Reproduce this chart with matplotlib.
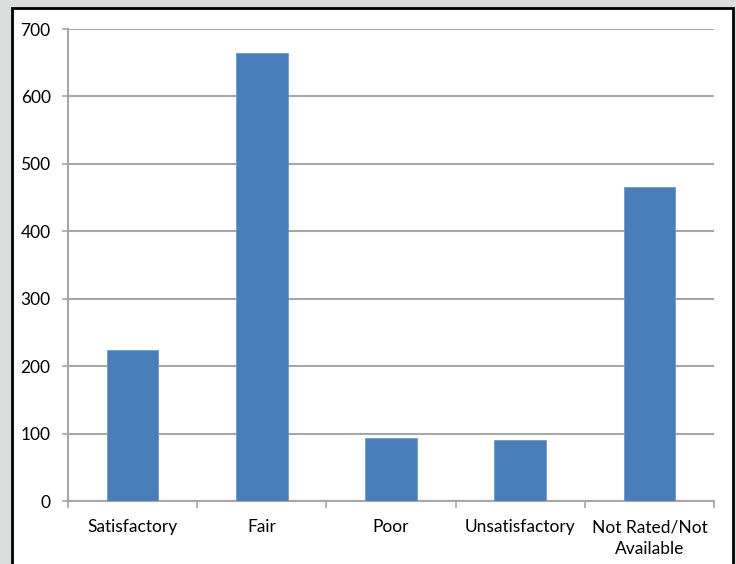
import matplotlib.pyplot as plt
from matplotlib.patches import Rectangle
import numpy as np

categories = ["Satisfactory", "Fair", "Poor", "Unsatisfactory", "Not Rated/Not\nAvailable"]
counts = [224, 665, 93, 90, 465]
y_ticks = [0, 100, 200, 300, 400, 500, 600, 700]

plt.rcParams["font.family"] = ["Lato", "DejaVu Sans"]

fig = plt.figure(figsize=(7.36, 5.64), dpi=100)
fig.patch.set_facecolor("#dcdddf")

# white panel with black frame (bottom edge runs off the image)
fig.patches.append(Rectangle((12 / 736, -0.1), 721 / 736, 0.1 + 1 - 8.5 / 564,
                             transform=fig.transFigure, facecolor="white",
                             edgecolor="black", linewidth=2, zorder=-10))

ax = fig.add_axes([68 / 736, 1 - 501 / 564, (714 - 68) / 736, (501 - 29) / 564])
ax.set_facecolor("none")

x = np.arange(len(categories))
ax.bar(x, counts, width=0.4, color="#4a7ebb", edgecolor="#6d97cc", linewidth=0.6, zorder=3)

ax.set_xlim(-0.5, len(categories) - 0.5)
ax.set_ylim(0, 700)
ax.set_yticks(y_ticks)
ax.yaxis.grid(True, color="#a6a6a6", linewidth=1.5, zorder=1)
ax.set_axisbelow(True)

# category labels centred, ticks at category boundaries
ax.set_xticks(x)
ax.set_xticklabels(categories, fontsize=12.5, linespacing=1.45)
ax.tick_params(axis="x", which="major", length=0, pad=13)
ax.set_xticks(np.arange(len(categories) + 1) - 0.5, minor=True)
ax.tick_params(axis="x", which="minor", length=5, width=1.2, color="#a6a6a6", direction="out")
ax.tick_params(axis="y", length=4, width=1.2, color="#a6a6a6", labelsize=12.5, pad=8.5)

for side in ["top", "right"]:
    ax.spines[side].set_visible(False)
for side in ["left", "bottom"]:
    ax.spines[side].set_color("#a6a6a6")
    ax.spines[side].set_linewidth(1.5)

fig.savefig("out.png", dpi=100, facecolor=fig.get_facecolor())
